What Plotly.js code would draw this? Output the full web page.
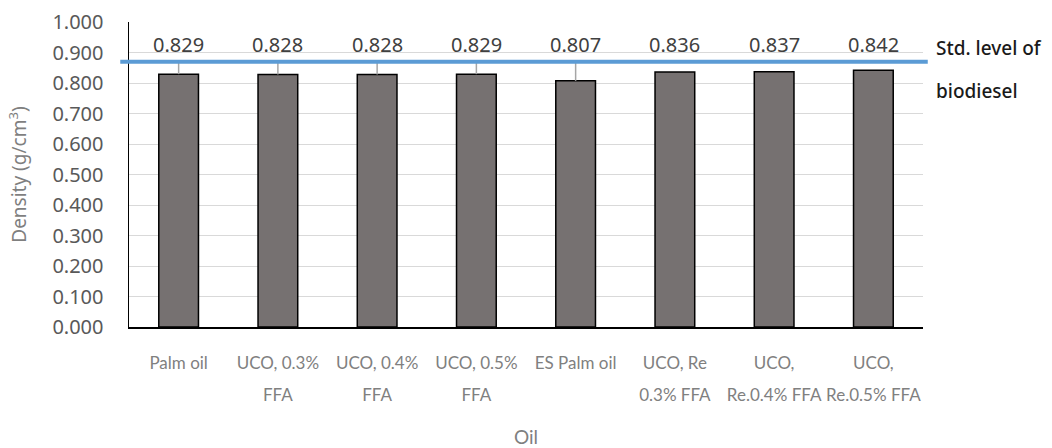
<!DOCTYPE html>
<html>
<head>
<meta charset="utf-8">
<script src="https://cdn.plot.ly/plotly-3.0.1.min.js"></script>
<style>
  html, body { margin: 0; padding: 0; background: #fff; }
  #chart { width: 1052px; height: 448px; }
</style>
</head>
<body>
<div id="chart"></div>
<script>
// Oil samples (x categories) and their measured biodiesel density, g/cm3
const categories = [
  "Palm oil", "UCO, 0.3% FFA", "UCO, 0.4% FFA", "UCO, 0.5% FFA",
  "ES Palm oil", "UCO, Re 0.3% FFA", "UCO, Re.0.4% FFA", "UCO, Re.0.5% FFA"
];
// Category labels are split over two rows under the axis
const tickLine1 = ["Palm oil", "UCO, 0.3%", "UCO, 0.4%", "UCO, 0.5%", "ES Palm oil", "UCO, Re", "UCO,", "UCO,"];
const tickLine2 = ["", "FFA", "FFA", "FFA", "", "0.3% FFA", "Re.0.4% FFA", "Re.0.5% FFA"];
const density = [0.829, 0.828, 0.828, 0.829, 0.807, 0.836, 0.837, 0.842];
// Upper error extent for each sample
const errorUp = [0.041, 0.042, 0.042, 0.041, 0.063, 0, 0, 0];
// Standard density level of biodiesel
const stdLevel = 0.87;
const yTicks = [0, 0.1, 0.2, 0.3, 0.4, 0.5, 0.6, 0.7, 0.8, 0.9, 1.0];
const labelLevel = 0.925;

const numFont = "Noto Sans, Open Sans, sans-serif";
const catFont = "Lato, Noto Sans, sans-serif";

// only the categories that have a second label row
const row2Vals = categories.filter((c, i) => tickLine2[i] !== "");
const row2Text = tickLine2.filter(t => t !== "");

const bars = {
  type: "bar",
  x: categories,
  y: density,
  xaxis: "x",
  yaxis: "y",
  marker: { color: "#767171", line: { color: "#000000", width: 1.5 } },
  error_y: {
    type: "data", symmetric: false,
    array: errorUp, arrayminus: density.map(() => 0),
    color: "#a6a6a6", thickness: 1.5, width: 0
  },
  hoverinfo: "x+y",
  showlegend: false
};

// carrier for the second row of category labels
const secondRow = {
  type: "scatter", mode: "none",
  x: categories, y: density,
  xaxis: "x2", yaxis: "y",
  hoverinfo: "skip", showlegend: false
};

const valueLabels = categories.map((c, i) => ({
  x: c, y: labelLevel, xref: "x", yref: "y",
  text: density[i].toFixed(3), showarrow: false,
  yanchor: "middle",
  font: { family: numFont, size: 20, color: "#404040" }
}));

const legendText = [
  { text: "Std. level of", y: 0.915 },
  { text: "biodiesel", y: 0.774 }
].map(o => ({
  x: 1.0139, xref: "paper", xanchor: "left",
  y: o.y, yref: "paper", yanchor: "middle",
  text: o.text, showarrow: false,
  font: { family: numFont, size: 19, color: "#1a1a1a", weight: 500 }
}));

const layout = {
  width: 1052, height: 448,
  margin: { l: 129, r: 129, t: 22, b: 121 },
  paper_bgcolor: "#ffffff", plot_bgcolor: "#ffffff",
  bargap: 0.6,
  xaxis: {
    type: "category",
    range: [-0.5, 7.5],
    tickvals: categories, ticktext: tickLine1,
    ticks: "", ticklabelstandoff: 20,
    tickfont: { family: catFont, size: 17, color: "#808080" },
    showline: true, linecolor: "#000000", linewidth: 1.5,
    showgrid: false, zeroline: false,
    title: { text: "Oil", standoff: 67, font: { family: catFont, size: 19, color: "#7f7f7f" } },
    automargin: false
  },
  xaxis2: {
    type: "category",
    overlaying: "x", anchor: "y", side: "bottom",
    range: [-0.5, 7.5],
    tickvals: row2Vals, ticktext: row2Text,
    ticks: "", ticklabelstandoff: 56,
    tickfont: { family: catFont, size: 17, color: "#808080" },
    showline: false, showgrid: false, zeroline: false,
    automargin: false
  },
  yaxis: {
    range: [0, 1],
    tickvals: yTicks, tickformat: ".3f",
    ticks: "", ticklabelstandoff: 20,
    tickfont: { family: numFont, size: 20, color: "#595959" },
    showline: true, linecolor: "#000000", linewidth: 1.5,
    showgrid: true, gridcolor: "#d9d9d9", gridwidth: 1,
    zeroline: false,
    title: { text: "Density (g/cm<sup>3</sup>)", standoff: 20, font: { family: numFont, size: 19, color: "#7f7f7f" } },
    automargin: false
  },
  shapes: [{
    type: "line", layer: "above",
    xref: "paper", x0: -0.011, x1: 1.006,
    yref: "y", y0: stdLevel, y1: stdLevel,
    line: { color: "#5b9bd5", width: 4 }
  }],
  annotations: valueLabels.concat(legendText)
};

Plotly.newPlot("chart", [bars, secondRow], layout, { displayModeBar: false, staticPlot: true });
</script>
</body>
</html>
